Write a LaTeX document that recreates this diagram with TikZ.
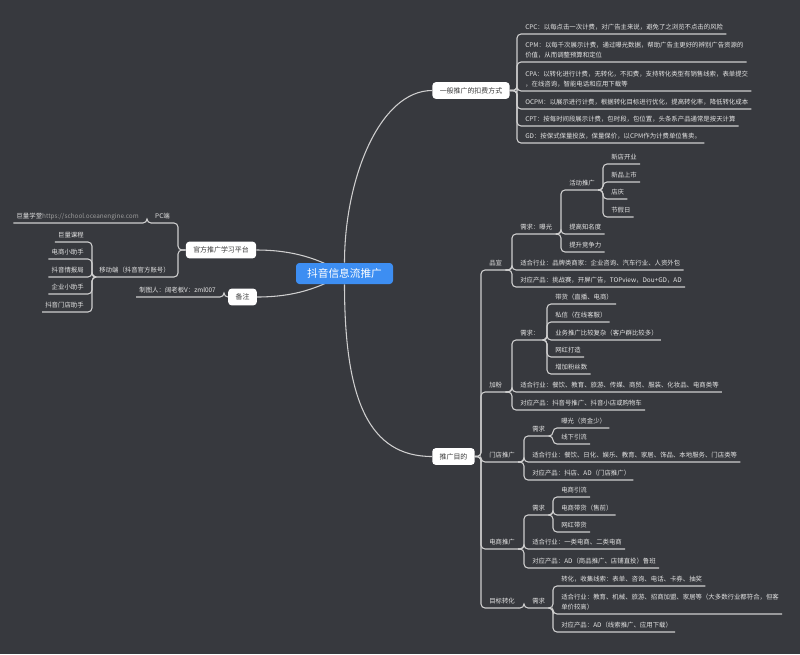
\documentclass[tikz,border=0pt]{standalone}
\usepackage{fontspec}
\setmainfont{Noto Sans CJK SC}
\usetikzlibrary{positioning}

\definecolor{canvasgray}{HTML}{37393E}
\definecolor{linkgray}{HTML}{CFCFCF}
\definecolor{leaftext}{HTML}{E4E4E4}
\definecolor{urlgray}{HTML}{9C9C9C}
\definecolor{boxtext}{HTML}{3A3A3A}
\definecolor{rootblue}{HTML}{3D8EF2}

\pgfdeclarelayer{canvas}
\pgfdeclarelayer{links}
\pgfsetlayers{canvas,links,main}

% elbow from a parent to a child, then along the child's underline
\newcommand{\twig}[2]{\draw[link] (#1) -| ([xshift=-3.75pt]#2.south west) -- (#2.south east);}
\newcommand{\twigl}[2]{\draw[link] (#1) -| ([xshift=3.75pt]#2.south east) -- (#2.south west);}

\begin{document}
\begin{tikzpicture}[
  x=0.75pt, y=-0.75pt,
  root/.style={
    fill=rootblue, text=white, rounded corners=2.5pt,
    minimum width=72.75pt, minimum height=15.75pt,
    font=\fontsize{8pt}{9.6pt}\selectfont
  },
  topic/.style={
    fill=white, text=boxtext, rounded corners=2.5pt,
    inner xsep=5.5pt, minimum height=12.5pt,
    font=\fontsize{5.2pt}{6.2pt}\selectfont
  },
  leaf/.style={
    anchor=south west, text=leaftext, align=left,
    inner xsep=2.25pt, inner ysep=2.4pt, text depth=0.6pt,
    font=\fontsize{4.8pt}{7.9pt}\selectfont
  },
  leafl/.style={leaf, anchor=south east},
  link/.style={draw=linkgray, line width=0.8pt, rounded corners=3pt},
  spoke/.style={draw=linkgray, line width=0.8pt},
]

\begin{pgfonlayer}{canvas}
  \fill[canvasgray] (0,0) rectangle (800,654);
\end{pgfonlayer}
\useasboundingbox (0,0) rectangle (800,654);

\node[root] (root) at (344.5,273.5) {抖音信息流推广};

\node[topic] (fee)   at (471,90.5)   {一般推广的扣费方式};
\node[topic] (goal)  at (453.5,456.5) {推广目的};
\node[topic] (learn) at (221,250)    {官方推广学习平台};
\node[topic] (memo)  at (242.5,297)  {备注};

% charging methods
\node[leaf] (cpc)  at (522,34)  {CPC：以每点击一次计费，对广告主来说，避免了之浏览不点击的风险};
\node[leaf] (cpm)  at (522,62)  {CPM：以每千次展示计费，通过曝光数据，帮助广告主更好的辨别广告资源的\\价值，从而调整预算和定位};
\node[leaf] (cpa)  at (522,91)  {CPA：以转化进行计费，无转化，不扣费，支持转化类型有销售线索，表单提交\\，在线咨询，智能电话和应用下载等};
\node[leaf] (ocpm) at (522,109) {OCPM：以展示进行计费，根据转化目标进行优化，提高转化率，降低转化成本};
\node[leaf] (cpt)  at (522,126) {CPT：按每时间段展示计费，包时段，包位置，头条系产品通常是按天计算};
\node[leaf] (gd)   at (522,143) {GD：按保式保量投放，保量保价，以CPM作为计费单位售卖。};

% goals
\node[leaf] (brand) at (486,270) {品宣};
\node[leaf] (fans)  at (486,392) {加粉};
\node[leaf] (store) at (486,462) {门店推广};
\node[leaf] (ecom)  at (486,549) {电商推广};
\node[leaf] (conv)  at (486,608) {目标转化};

\node[leaf] (brandneed) at (517,234) {需求：曝光};
\node[leaf] (brandind)  at (517,270) {适合行业：品牌类商家：企业咨询、汽车行业、人资外包};
\node[leaf] (brandprod) at (517,287) {对应产品：挑战赛，开屏广告，TOPview，Dou+GD，AD};
\node[leaf] (event)   at (566,190) {活动推广};
\node[leaf] (fame)    at (566,234) {提高知名度};
\node[leaf] (compete) at (566,252) {提升竞争力};
\node[leaf] (shopopen) at (608,164) {新店开业};
\node[leaf] (newitem)  at (608,182) {新品上市};
\node[leaf] (anniv)    at (608,199) {店庆};
\node[leaf] (holiday)  at (608,217) {节假日};

\node[leaf] (fansneed) at (517,340) {需求：};
\node[leaf] (fansind)  at (517,392) {适合行业：餐饮、教育、旅游、传媒、商贸、服装、化妆品、电商类等};
\node[leaf] (fansprod) at (517,410) {对应产品：抖音号推广、抖音小店或购物车};
\node[leaf] (sell)     at (552,304) {带货（直播、电商）};
\node[leaf] (dm)       at (552,322) {私信（在线客服）};
\node[leaf] (complex)  at (552,340) {业务推广比较复杂（客户群比较多）};
\node[leaf] (kol)      at (552,357) {网红打造};
\node[leaf] (morefans) at (552,374) {增加粉丝数};

\node[leaf] (storeneed) at (529,436) {需求};
\node[leaf] (storeind)  at (529,462) {适合行业：餐饮、日化、娱乐、教育、家居、饰品、本地服务、门店类等};
\node[leaf] (storeprod) at (529,480) {对应产品：抖店、AD（门店推广）};
\node[leaf] (expo)    at (558,428) {曝光（资金少）};
\node[leaf] (offline) at (558,444) {线下引流};

\node[leaf] (ecomneed) at (529,515) {需求};
\node[leaf] (ecomind)  at (529,549) {适合行业：一类电商、二类电商};
\node[leaf] (ecomprod) at (529,568) {对应产品：AD（商品推广、店铺直投）鲁班};
\node[leaf] (traffic) at (558,497) {电商引流};
\node[leaf] (presale) at (558,515) {电商带货（售前）};
\node[leaf] (kolsell) at (558,532) {网红带货};

\node[leaf] (convneed) at (529,608) {需求};
\node[leaf] (lead)     at (558,586) {转化，收集线索：表单、咨询、电话、卡券、抽奖};
\node[leaf] (convind)  at (558,614) {适合行业：教育、机械、旅游、招商加盟、家居等（大多数行业都符合，但客\\单价较高）};
\node[leaf] (convprod) at (558,632) {对应产品：AD（线索推广、应用下载）};

% learning platforms
\node[leafl] (pc)     at (173,223) {PC端};
\node[leafl] (school) at (142,223) {巨量学堂\textcolor{urlgray}{https://school.oceanengine.com}};
\node[leafl] (mobile) at (173,277) {移动端（抖音官方账号）};
\node[leafl] (course)    at (87,242) {巨量课程};
\node[leafl] (ecomhelp)  at (87,259) {电商小助手};
\node[leafl] (intel)     at (87,277) {抖音情报局};
\node[leafl] (bizhelp)   at (87,294) {企业小助手};
\node[leafl] (storehelp) at (87,312) {抖音门店助手};

\node[leafl] (maker) at (219,297) {制图人：阔老板V：zml007};

\begin{pgfonlayer}{links}
  \draw[spoke] (root.north) .. controls +(0,-83) and +(-53,0) .. (fee.west);
  \draw[spoke] (root.south) .. controls +(0,116) and +(-63,0) .. (goal.west);
  \draw[spoke] (learn.east) .. controls +(45,0) and +(-18,-10) .. (root.center);
  \draw[spoke] (memo.east) .. controls +(45,0) and +(-18,10) .. (root.center);

  \foreach \c in {cpc,cpm,cpa,ocpm,cpt,gd} \twig{fee.east}{\c};
  \foreach \c in {brand,fans,store,ecom,conv} \twig{goal.east}{\c};
  \foreach \c in {brandneed,brandind,brandprod} \twig{brand.south east}{\c};
  \foreach \c in {event,fame,compete} \twig{brandneed.south east}{\c};
  \foreach \c in {shopopen,newitem,anniv,holiday} \twig{event.south east}{\c};
  \foreach \c in {fansneed,fansind,fansprod} \twig{fans.south east}{\c};
  \foreach \c in {sell,dm,complex,kol,morefans} \twig{fansneed.south east}{\c};
  \foreach \c in {storeneed,storeind,storeprod} \twig{store.south east}{\c};
  \foreach \c in {expo,offline} \twig{storeneed.south east}{\c};
  \foreach \c in {ecomneed,ecomind,ecomprod} \twig{ecom.south east}{\c};
  \foreach \c in {traffic,presale,kolsell} \twig{ecomneed.south east}{\c};
  \twig{conv.south east}{convneed}
  \foreach \c in {lead,convind,convprod} \twig{convneed.south east}{\c};

  \foreach \c in {pc,mobile} \twigl{learn.west}{\c};
  \twigl{pc.south west}{school}
  \foreach \c in {course,ecomhelp,intel,bizhelp,storehelp} \twigl{mobile.south west}{\c};
  \twigl{memo.west}{maker}
\end{pgfonlayer}

\end{tikzpicture}
\end{document}
